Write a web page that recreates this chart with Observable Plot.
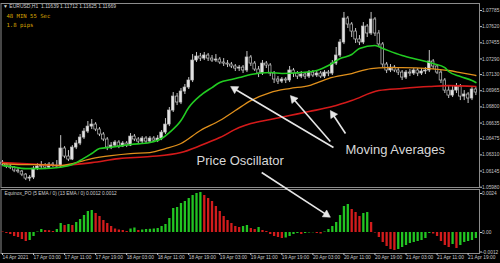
<!DOCTYPE html>
<html>
<head>
<meta charset="utf-8">
<script src="https://cdn.jsdelivr.net/npm/d3@7"></script>
<script src="https://cdn.jsdelivr.net/npm/@observablehq/plot@0.6"></script>
<style>
  html, body { margin: 0; padding: 0; background: #000; }
  #wrap { position: relative; width: 500px; height: 263px; background: #000; overflow: hidden; }
  #wrap svg { position: absolute; left: 0; top: 0; }
</style>
</head>
<body>
<div id="wrap"></div>
<script>
// ---------- data ----------
const titleText = "\u25BC EURUSD,H1  1.11639 1.11712 1.11625 1.11669";
const timerText = "48 MIN 55 Sec";
const spreadText = "1.8 pips";
const oscLabel = "Equinox_PO (5 EMA / 0) (13 EMA / 0) 0.0012 0.0012";

const dateLabels = ["14 Apr 2021","17 Apr 03:00","17 Apr 11:00","17 Apr 19:00","18 Apr 03:00","18 Apr 11:00","18 Apr 19:00","19 Apr 03:00","19 Apr 11:00","19 Apr 19:00","20 Apr 03:00","20 Apr 11:00","20 Apr 19:00","21 Apr 03:00","21 Apr 11:00","21 Apr 19:00"];
const dateTickBars = [0,8,16,24,32,40,48,56,64,72,80,88,96,104,112,120];
const priceTicks = [1.07785,1.07620,1.07455,1.07290,1.07130,1.06965,1.06800,1.06635,1.06475,1.06310,1.06145,1.05980];
const oscTicks = [0.0024, 0, -0.0012];
const oscTickLabels = ["0.0024","0.00","-0.0012"];

const opens = [
1.06231,1.06211,1.06191,1.06180,1.06150,1.06140,1.06109,1.06068,1.06078,1.06170,
1.06191,1.06201,1.06180,1.06211,1.06201,1.06191,1.06375,1.06293,1.06262,1.06385,
1.06426,1.06487,1.06548,1.06599,1.06620,1.06569,1.06518,1.06467,1.06385,1.06405,
1.06436,1.06395,1.06426,1.06405,1.06497,1.06467,1.06446,1.06477,1.06446,1.06477,
1.06456,1.06477,1.06538,1.06620,1.06763,1.06906,1.06845,1.06957,1.06998,1.07070,
1.07274,1.07315,1.07294,1.07325,1.07294,1.07274,1.07284,1.07254,1.07243,1.07233,
1.07213,1.07192,1.07202,1.07172,1.07305,1.07243,1.07182,1.07141,1.07243,1.07223,
1.07141,1.07080,1.07059,1.07080,1.07070,1.07172,1.07141,1.07110,1.07131,1.07110,
1.07151,1.07121,1.07141,1.07110,1.07151,1.07141,1.07243,1.07325,1.07458,1.07703,
1.07642,1.07570,1.07489,1.07458,1.07621,1.07550,1.07693,1.07550,1.07438,1.07233,
1.07172,1.07202,1.07172,1.07151,1.07100,1.07151,1.07141,1.07172,1.07141,1.07162,
1.07172,1.07264,1.07213,1.07151,1.07070,1.06967,1.06916,1.06967,1.07008,1.06906,
1.06927,1.06886,1.06978];
const highs = [
1.06252,1.06232,1.06211,1.06191,1.06170,1.06150,1.06119,1.06099,1.06191,1.06221,
1.06242,1.06221,1.06232,1.06232,1.06252,1.06507,1.06395,1.06354,1.06405,1.06456,
1.06518,1.06579,1.06651,1.06671,1.06640,1.06589,1.06538,1.06487,1.06436,1.06456,
1.06456,1.06446,1.06446,1.06528,1.06518,1.06487,1.06497,1.06497,1.06497,1.06497,
1.06507,1.06559,1.06681,1.06794,1.06947,1.06937,1.06988,1.07029,1.07100,1.07335,
1.07356,1.07346,1.07356,1.07346,1.07325,1.07335,1.07305,1.07294,1.07274,1.07254,
1.07233,1.07223,1.07223,1.07366,1.07325,1.07264,1.07213,1.07274,1.07264,1.07243,
1.07162,1.07110,1.07100,1.07100,1.07213,1.07192,1.07162,1.07162,1.07151,1.07172,
1.07172,1.07162,1.07162,1.07172,1.07172,1.07274,1.07407,1.07489,1.07765,1.07724,
1.07662,1.07601,1.07529,1.07662,1.07642,1.07765,1.07713,1.07581,1.07458,1.07254,
1.07233,1.07223,1.07202,1.07172,1.07172,1.07182,1.07192,1.07192,1.07192,1.07202,
1.07376,1.07284,1.07233,1.07172,1.07090,1.07008,1.07008,1.07039,1.07029,1.06967,
1.06947,1.06998,1.06998];
const lows = [
1.06191,1.06170,1.06160,1.06129,1.06119,1.06088,1.06048,1.06037,1.06058,1.06150,
1.06170,1.06160,1.06170,1.06180,1.06170,1.06180,1.06272,1.06242,1.06252,1.06364,
1.06405,1.06467,1.06528,1.06569,1.06548,1.06497,1.06446,1.06354,1.06364,1.06385,
1.06374,1.06385,1.06385,1.06395,1.06446,1.06426,1.06426,1.06426,1.06436,1.06436,
1.06436,1.06456,1.06518,1.06599,1.06743,1.06814,1.06824,1.06927,1.06978,1.07049,
1.07254,1.07264,1.07274,1.07264,1.07254,1.07254,1.07233,1.07213,1.07202,1.07192,
1.07162,1.07162,1.07141,1.07151,1.07213,1.07162,1.07100,1.07121,1.07192,1.07110,
1.07039,1.07029,1.07039,1.07039,1.07049,1.07100,1.07080,1.07090,1.07080,1.07090,
1.07100,1.07100,1.07090,1.07090,1.07110,1.07121,1.07223,1.07305,1.07437,1.07601,
1.07509,1.07448,1.07427,1.07437,1.07509,1.07530,1.07519,1.07407,1.07202,1.07141,
1.07151,1.07151,1.07121,1.07070,1.07080,1.07110,1.07121,1.07110,1.07121,1.07131,
1.07151,1.07182,1.07131,1.07039,1.06937,1.06886,1.06896,1.06937,1.06865,1.06865,
1.06835,1.06865,1.06916];
const closes = [
1.06211,1.06191,1.06180,1.06150,1.06140,1.06109,1.06068,1.06078,1.06170,1.06191,
1.06201,1.06180,1.06211,1.06201,1.06191,1.06375,1.06293,1.06262,1.06385,1.06426,
1.06487,1.06548,1.06599,1.06620,1.06569,1.06518,1.06467,1.06385,1.06405,1.06436,
1.06395,1.06426,1.06405,1.06497,1.06467,1.06446,1.06477,1.06446,1.06477,1.06456,
1.06477,1.06538,1.06620,1.06763,1.06906,1.06845,1.06957,1.06998,1.07070,1.07274,
1.07315,1.07294,1.07325,1.07294,1.07274,1.07284,1.07254,1.07243,1.07233,1.07213,
1.07192,1.07202,1.07172,1.07305,1.07243,1.07182,1.07141,1.07243,1.07223,1.07141,
1.07080,1.07059,1.07080,1.07070,1.07172,1.07141,1.07110,1.07131,1.07110,1.07151,
1.07121,1.07141,1.07110,1.07151,1.07141,1.07243,1.07325,1.07458,1.07703,1.07642,
1.07570,1.07489,1.07458,1.07621,1.07550,1.07693,1.07550,1.07438,1.07233,1.07172,
1.07202,1.07172,1.07151,1.07100,1.07151,1.07141,1.07172,1.07141,1.07162,1.07172,
1.07264,1.07213,1.07151,1.07070,1.06967,1.06916,1.06967,1.07008,1.06906,1.06927,
1.06886,1.06978,1.06947];

// moving averages, read at sample bars
const maGreenBars = [0,2,6,10,15,18,20,23,25,28,33,38,41,43,46,48,51,54,56,59,61,64,69,72,77,81,84,87,90,92,96,98,103,107,111,114,115,118,121,122];
const maGreen = [1.06201,1.06191,1.06170,1.06170,1.06184,1.06211,1.06252,1.06324,1.06375,1.06388,1.06416,1.06436,1.06477,1.06538,1.06661,1.06794,1.06916,1.06998,1.07049,1.07080,1.07100,1.07131,1.07151,1.07141,1.07151,1.07172,1.07223,1.07294,1.07335,1.07397,1.07427,1.07397,1.07325,1.07284,1.07243,1.07202,1.07162,1.07110,1.07070,1.07049];
const maOrangeBars = [0,5,10,15,18,23,28,33,38,42,46,51,56,60,64,69,74,79,84,90,95,99,103,110,115,118,122];
const maOrange = [1.06221,1.06211,1.06211,1.06201,1.06221,1.06272,1.06303,1.06324,1.06334,1.06374,1.06426,1.06559,1.06661,1.06763,1.06865,1.06947,1.06988,1.07018,1.07090,1.07141,1.07192,1.07202,1.07202,1.07192,1.07172,1.07151,1.07121];
const maRedBars = [0,5,10,15,18,23,30,38,46,51,56,61,64,69,74,79,85,90,97,103,110,115,122];
const maRed = [1.06231,1.06221,1.06211,1.06201,1.06211,1.06231,1.06272,1.06293,1.06334,1.06405,1.06487,1.06589,1.06630,1.06671,1.06712,1.06753,1.06804,1.06865,1.06967,1.06988,1.07008,1.07018,1.07008];

// price oscillator histogram
const oscValues = [
0.000031,-0.000062,-0.000123,-0.000246,-0.000308,-0.000431,-0.000554,-0.000492,-0.000246,0.000031,
0.000185,0.000123,0.000111,0.000062,0.000185,0.000554,0.000431,0.000492,0.000431,0.000615,
0.0008,0.001046,0.001292,0.001353,0.001169,0.000984,0.000738,0.000554,0.000369,0.000215,
0.000154,0.000123,0.000062,0.000215,0.000277,0.000123,0.000154,0.000185,0.000197,0.000215,
0.000246,0.000369,0.000492,0.000861,0.001476,0.001538,0.001784,0.001907,0.002091,0.002276,
0.0024,0.00246,0.002276,0.002091,0.001907,0.001599,0.001292,0.000984,0.000738,0.000554,
0.000369,0.000308,0.000369,0.000431,0.000246,0.000185,0.000308,0.000123,0.000062,-0.000123,
-0.000246,-0.000308,-0.000369,-0.000338,-0.000246,-0.000123,-0.000062,-0.000123,-0.000062,-0.000031,
-0.000018,-0.000062,-0.000092,0.000031,0.000185,0.000369,0.000615,0.001046,0.001599,0.001722,
0.001415,0.00123,0.000984,0.001169,0.00123,0.000615,-0.000031,-0.000308,-0.000615,-0.000861,
-0.001046,-0.001107,-0.001046,-0.000923,-0.0008,-0.000677,-0.000615,-0.000554,-0.000492,-0.000369,
-0.000062,-0.000092,-0.000246,-0.000554,-0.0008,-0.000923,-0.000738,-0.000984,-0.0008,-0.000615,
-0.000554,-0.000492,-0.000369];

// annotations (data coordinates: bar index, price / oscillator value)
const mainNotes = [
  {label: "Price Oscillator", bar: 50, price: 1.06249},
  {label: "Moving Averages", bar: 88.4, price: 1.06363}
];
const mainArrows = [
  {b1: 85.3, p1: 1.06385, b2: 58.8, p2: 1.07008},
  {b1: 84.5, p1: 1.06446, b2: 74.2, p2: 1.06916},
  {b1: 88.4, p1: 1.06528, b2: 84.5, p2: 1.06763}
];
const oscArrows = [
  {b1: 66.8, p1: 0.003692, b2: 84.5, p2: 0.000942}
];

// ---------- build ----------
const bars = closes.map((c, i) => ({i, o: opens[i], h: highs[i], l: lows[i], c}));
const ma = (bs, vs) => bs.map((b, k) => ({b, v: vs[k]}));
const osc = oscValues.map((v, i) => ({i, v, col: (i > 0 && v > oscValues[i - 1]) ? "#22c422" : "#d21c1c"}));

const FONT = "'Liberation Sans', Arial, sans-serif";
const GRID = "#8c8c8c";
const ARROW = "#e6e6e6";
const xScale = {domain: [0, 120], range: [2, 467.6]};
const mainY = {domain: [1.05980, 1.07785], range: [186.7, 10]};
const oscY = {domain: [-0.0012, 0.0024], range: [251.5, 193]};

// filled arrow heads: shaft ends at the centre of a rotated triangle symbol
const HEAD_R = 3, TIP = 4.67;
function arrowParts(list, yOpt) {
  const sx = d3.scaleLinear(xScale.domain, xScale.range);
  const sy = d3.scaleLinear(yOpt.domain, yOpt.range);
  return list.map(a => {
    const X1 = sx(a.b1), Y1 = sy(a.p1), X2 = sx(a.b2), Y2 = sy(a.p2);
    const L = Math.hypot(X2 - X1, Y2 - Y1), ux = (X2 - X1) / L, uy = (Y2 - Y1) / L;
    return {
      b1: a.b1, p1: a.p1,
      bc: sx.invert(X2 - ux * TIP), pc: sy.invert(Y2 - uy * TIP),
      rot: Math.atan2(ux, -uy) * 180 / Math.PI
    };
  });
}
function arrowMarks(list, yOpt) {
  const parts = arrowParts(list, yOpt);
  return [
    Plot.link(parts, {x1: "b1", y1: "p1", x2: "bc", y2: "pc", stroke: ARROW, strokeWidth: 1.6}),
    Plot.dot(parts, {x: "bc", y: "pc", symbol: "triangle", r: HEAD_R, rotate: "rot", fill: ARROW, stroke: ARROW, strokeWidth: 0.5})
  ];
}

const mainPlot = Plot.plot({
  width: 500, height: 263,
  marginTop: 3, marginLeft: 0.5, marginRight: 21, marginBottom: 76,
  style: {background: "#000", color: "#c8c8c8", fontFamily: FONT, fontSize: "4.8px", overflow: "visible"},
  x: {...xScale, axis: null},
  y: mainY,
  color: {type: "identity"},
  marks: [
    Plot.frame({stroke: GRID}),
    Plot.axisY({anchor: "right", ticks: priceTicks, tickFormat: d3.format(".5f"), tickSize: 2, tickPadding: 0.5, fontSize: 4.8, label: null}),
    Plot.ruleX(bars, {x: "i", y1: "l", y2: "h", stroke: "#c4c4c4", strokeWidth: 1}),
    Plot.rect(bars, {
      x1: d => d.i - 0.33, x2: d => d.i + 0.33, y1: "o", y2: "c",
      fill: d => d.c >= d.o ? "#e4e4e4" : "#000", stroke: "#c4c4c4", strokeWidth: 0.7
    }),
    Plot.line(ma(maRedBars, maRed), {x: "b", y: "v", stroke: "#d41a1a", strokeWidth: 1.6, curve: "monotone-x"}),
    Plot.line(ma(maOrangeBars, maOrange), {x: "b", y: "v", stroke: "#e0901c", strokeWidth: 1.3, curve: "monotone-x"}),
    Plot.line(ma(maGreenBars, maGreen), {x: "b", y: "v", stroke: "#22cc22", strokeWidth: 1.6, curve: "monotone-x"}),
    ...arrowMarks(mainArrows, mainY),
    Plot.text(mainNotes, {x: "bar", y: "price", text: "label", textAnchor: "start", lineAnchor: "middle", fill: "#d8d8d8", fontSize: 13, fontFamily: FONT}),
    Plot.text([titleText], {frameAnchor: "top-left", dx: 2, dy: 0.8, lineAnchor: "top", textAnchor: "start", fill: "#cfcfcf", fontSize: 5, fontFamily: FONT}),
    Plot.text([timerText], {frameAnchor: "top-left", dx: 5.5, dy: 10.8, lineAnchor: "top", textAnchor: "start", fill: "#d9a400", fontSize: 5.6, fontFamily: "'DejaVu Sans Mono', 'Liberation Mono', monospace"}),
    Plot.text([spreadText], {frameAnchor: "top-left", dx: 5.5, dy: 19.5, lineAnchor: "top", textAnchor: "start", fill: "#d9a400", fontSize: 5.6, fontFamily: "'DejaVu Sans Mono', 'Liberation Mono', monospace"})
  ]
});

const oscPlot = Plot.plot({
  width: 500, height: 263,
  marginTop: 189, marginLeft: 0.5, marginRight: 21, marginBottom: 10,
  style: {background: "transparent", color: "#c8c8c8", fontFamily: FONT, fontSize: "4.8px", overflow: "visible"},
  x: {...xScale},
  y: oscY,
  color: {type: "identity"},
  marks: [
    Plot.frame({stroke: GRID}),
    Plot.ruleX(osc, {x: "i", y1: 0, y2: "v", stroke: "col", strokeWidth: 2.3}),
    Plot.axisY({anchor: "right", ticks: oscTicks, tickFormat: d => oscTickLabels[oscTicks.indexOf(d)], tickSize: 2, tickPadding: 0.5, fontSize: 4.8, label: null}),
    Plot.axisX({anchor: "bottom", ticks: dateTickBars, tickFormat: d => dateLabels[dateTickBars.indexOf(d)], tickSize: 2, tickPadding: 0.5, textAnchor: "start", fontSize: 4.8, label: null}),
    Plot.text([oscLabel], {frameAnchor: "top-left", dx: 3.5, dy: 2.5, lineAnchor: "top", textAnchor: "start", fill: "#cfcfcf", fontSize: 4.8, fontFamily: FONT}),
    ...arrowMarks(oscArrows, oscY)
  ]
});

const wrap = document.getElementById("wrap");
wrap.appendChild(mainPlot);
wrap.appendChild(oscPlot);
</script>
</body>
</html>
